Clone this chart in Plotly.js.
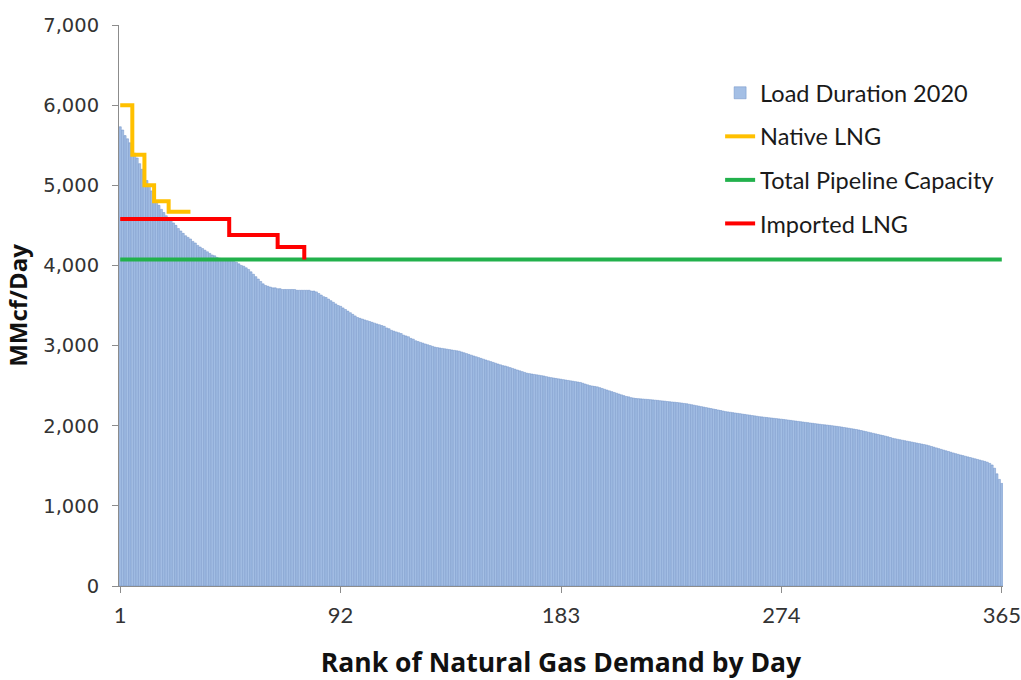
<!DOCTYPE html>
<html>
<head>
<meta charset="utf-8">
<script src="https://cdn.plot.ly/plotly-3.0.1.min.js"></script>
<style>
  html, body { margin: 0; padding: 0; background: #ffffff; }
  #chart { width: 1021px; height: 680px; }
</style>
</head>
<body>
<div id="chart"></div>
<script>
// Load duration 2020 (MMcf/Day), ranked day 1..365
const loadDuration2020 = [
  5730, 5690, 5620, 5580, 5530, 5470, 5400, 5340, 5270, 5200,
  5130, 5060, 4990, 4930, 4870, 4800, 4750, 4700, 4660, 4620,
  4590, 4560, 4530, 4500, 4460, 4430, 4400, 4370, 4350, 4330,
  4300, 4280, 4250, 4230, 4210, 4190, 4170, 4150, 4130, 4120,
  4100, 4090, 4080, 4070, 4070, 4060, 4060, 4050, 4040, 4020,
  4000, 3990, 3970, 3950, 3920, 3890, 3860, 3830, 3800, 3770,
  3750, 3740, 3730, 3720, 3720, 3710, 3710, 3700, 3700, 3700,
  3700, 3700, 3700, 3690, 3690, 3690, 3690, 3690, 3690, 3680,
  3680, 3670, 3650, 3630, 3610, 3600, 3580, 3560, 3540, 3520,
  3500, 3490, 3470, 3450, 3430, 3410, 3390, 3370, 3350, 3340,
  3330, 3320, 3310, 3300, 3290, 3280, 3270, 3260, 3250, 3240,
  3220, 3210, 3190, 3180, 3170, 3160, 3150, 3130, 3120, 3110,
  3090, 3080, 3060, 3050, 3040, 3030, 3020, 3010, 3000, 2990,
  2980, 2975, 2970, 2965, 2960, 2955, 2950, 2945, 2940, 2935,
  2930, 2920, 2910, 2900, 2890, 2880, 2870, 2860, 2850, 2840,
  2830, 2820, 2810, 2800, 2790, 2780, 2770, 2760, 2750, 2745,
  2735, 2725, 2715, 2705, 2695, 2685, 2675, 2665, 2655, 2650,
  2645, 2640, 2635, 2630, 2625, 2620, 2612, 2605, 2600, 2595,
  2590, 2585, 2580, 2575, 2570, 2565, 2560, 2555, 2550, 2545,
  2540, 2530, 2520, 2510, 2500, 2495, 2490, 2485, 2475, 2465,
  2455, 2445, 2435, 2425, 2415, 2405, 2395, 2385, 2375, 2365,
  2360, 2350, 2345, 2340, 2338, 2335, 2333, 2330, 2328, 2325,
  2322, 2319, 2316, 2312, 2309, 2306, 2302, 2299, 2296, 2293,
  2290, 2286, 2282, 2278, 2274, 2268, 2262, 2256, 2250, 2244,
  2238, 2232, 2226, 2220, 2214, 2208, 2202, 2196, 2190, 2183,
  2176, 2172, 2168, 2163, 2159, 2154, 2150, 2145, 2141, 2136,
  2132, 2127, 2123, 2118, 2113, 2110, 2106, 2103, 2099, 2096,
  2092, 2089, 2085, 2082, 2078, 2074, 2070, 2066, 2062, 2058,
  2054, 2050, 2046, 2042, 2038, 2034, 2030, 2026, 2022, 2018,
  2014, 2011, 2008, 2004, 2000, 1996, 1992, 1988, 1983, 1978,
  1973, 1968, 1963, 1958, 1953, 1947, 1940, 1933, 1926, 1919,
  1912, 1905, 1898, 1891, 1884, 1877, 1870, 1862, 1853, 1843,
  1837, 1831, 1825, 1819, 1813, 1807, 1801, 1795, 1789, 1783,
  1777, 1771, 1765, 1759, 1750, 1741, 1732, 1723, 1714, 1705,
  1696, 1687, 1678, 1669, 1660, 1651, 1643, 1635, 1627, 1619,
  1611, 1603, 1595, 1587, 1579, 1571, 1563, 1555, 1545, 1530,
  1510, 1470, 1400, 1330, 1280
];
const rankDays = loadDuration2020.map((v, i) => i + 1);

// Native LNG step levels (start rank of each step, level)
const nativeLngRank  = [1, 6, 11, 15, 21, 30];
const nativeLngLevel = [6000, 5380, 5000, 4800, 4670, 4670];

// Imported LNG step levels
const importedLngRank  = [1, 46, 66, 77];
const importedLngLevel = [4580, 4380, 4230, 4075];

// Total pipeline capacity
const pipelineRank  = [1, 365];
const pipelineLevel = [4075, 4075];

// Axis ticks
const xTickVals = [1, 92, 183, 274, 365];
const yTickVals = [0, 1000, 2000, 3000, 4000, 5000, 6000, 7000];

const traces = [
  {
    type: 'bar', name: 'Load Duration 2020',
    x: rankDays, y: loadDuration2020,
    marker: { color: '#A4BFE5', line: { color: '#6F90C6', width: 0.5 } },
    legendgroup: 'a'
  },
  {
    type: 'scatter', mode: 'lines', name: 'Native LNG',
    x: nativeLngRank, y: nativeLngLevel,
    line: { color: '#FFC000', width: 4, shape: 'hv' },
    legendgroup: 'b'
  },
  {
    type: 'scatter', mode: 'lines', name: 'Total Pipeline Capacity',
    x: pipelineRank, y: pipelineLevel,
    line: { color: '#22B14C', width: 4 },
    legendgroup: 'c'
  },
  {
    type: 'scatter', mode: 'lines', name: 'Imported LNG',
    x: importedLngRank, y: importedLngLevel,
    line: { color: '#FF0000', width: 4, shape: 'hv' },
    legendgroup: 'd'
  }
];

const layout = {
  width: 1021, height: 680,
  margin: { l: 119, r: 18, t: 25, b: 94 },
  paper_bgcolor: '#ffffff', plot_bgcolor: '#ffffff',
  bargap: 0.12,
  showlegend: true,
  legend: {
    xref: 'paper', yref: 'paper',
    x: 0.68, y: 0.918, xanchor: 'left', yanchor: 'top',
    font: { family: 'Lato, sans-serif', size: 23.5, color: '#1a1a1a' },
    traceorder: 'grouped', tracegroupgap: 10,
    bgcolor: 'rgba(0,0,0,0)', itemwidth: 30
  },
  xaxis: {
    range: [0.5, 365.5],
    tickmode: 'array', tickvals: xTickVals, ticktext: xTickVals.map(String),
    ticks: 'outside', ticklen: 6, tickcolor: '#8c8c8c',
    showline: true, linecolor: '#8c8c8c', linewidth: 1,
    showgrid: false, zeroline: false,
    ticklabelstandoff: 4,
    tickfont: { family: 'Lato, sans-serif', size: 22, color: '#333333' },
    title: { text: 'Rank of Natural Gas Demand by Day', standoff: 28,
             font: { family: 'Open Sans, sans-serif', size: 26.5, color: '#111111', weight: 'bold' } }
  },
  yaxis: {
    range: [0, 7000],
    tickmode: 'array', tickvals: yTickVals,
    tickformat: ',d',
    ticks: 'outside', ticklen: 6, tickcolor: '#8c8c8c',
    showline: true, linecolor: '#8c8c8c', linewidth: 1,
    showgrid: false, zeroline: false,
    ticklabelstandoff: 9,
    tickfont: { family: 'DejaVu Sans, sans-serif', size: 19.5, color: '#333333' },
    title: { text: 'MMcf/Day', standoff: 8,
             font: { family: 'Open Sans, sans-serif', size: 24, color: '#111111', weight: 'bold' } }
  }
};

Plotly.newPlot('chart', traces, layout, { displayModeBar: false, staticPlot: true });
</script>
</body>
</html>
